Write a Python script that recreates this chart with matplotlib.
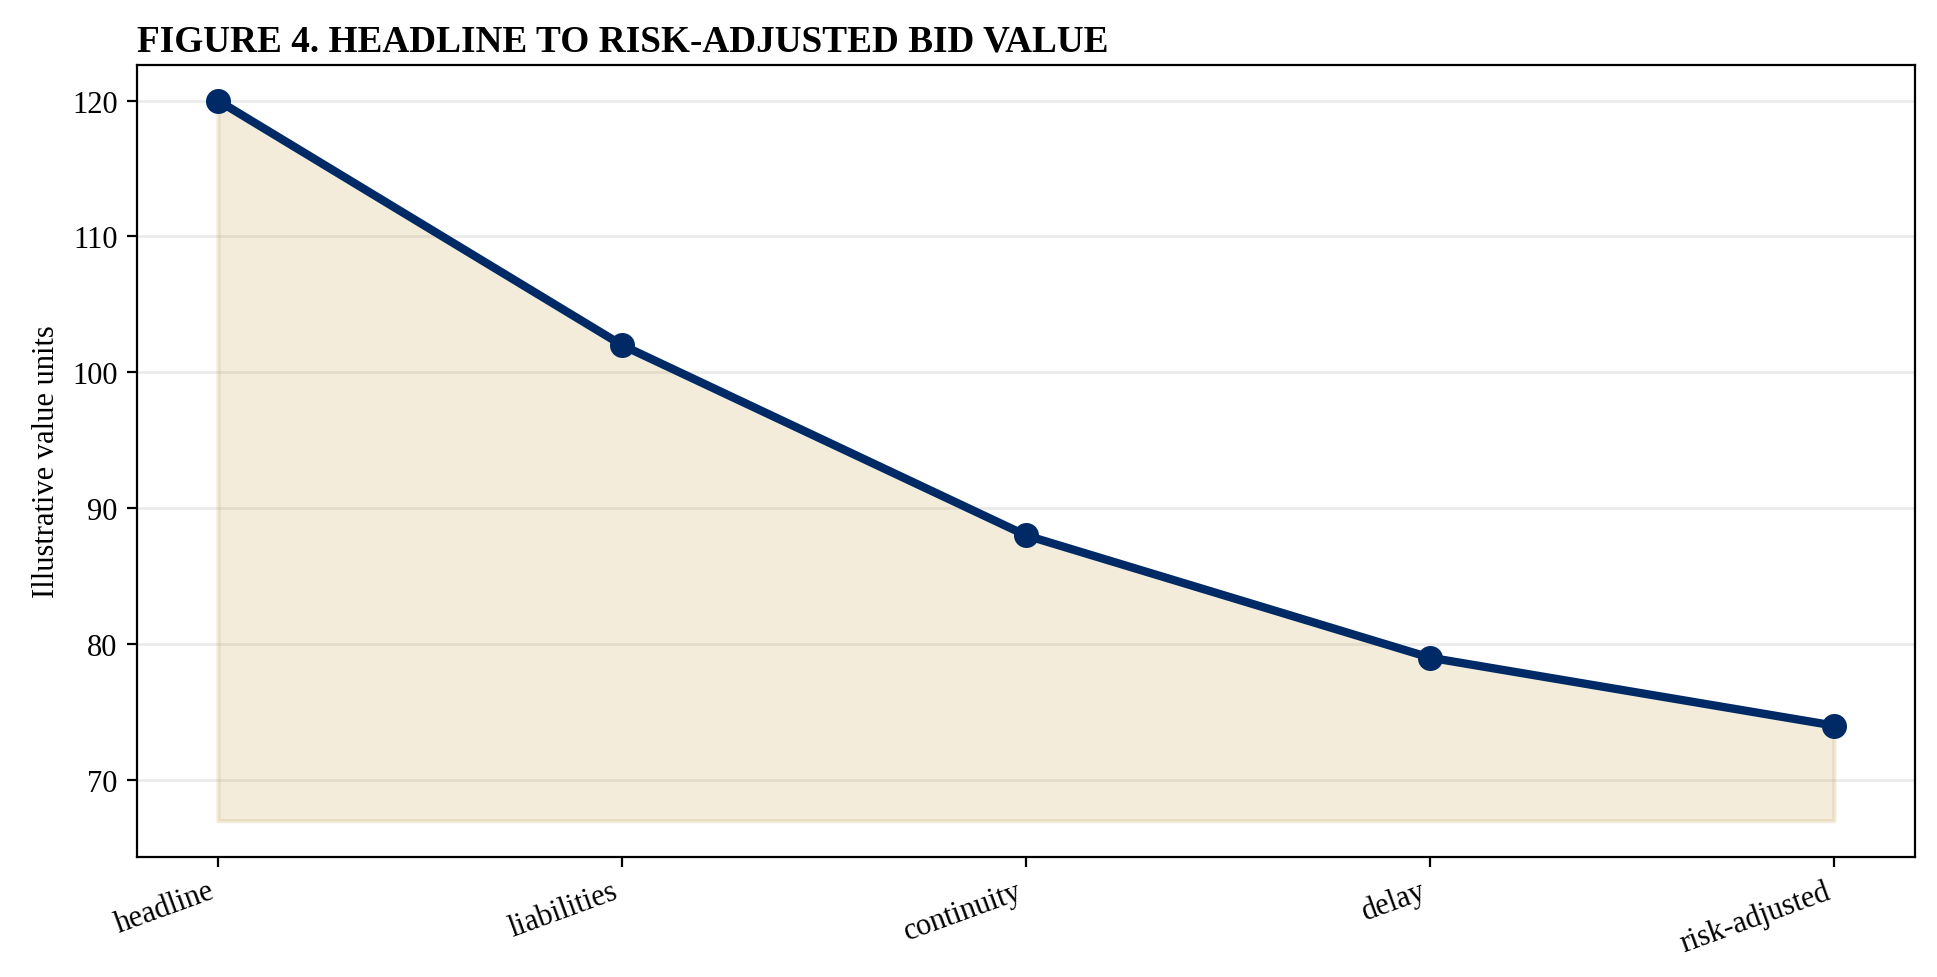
import matplotlib
matplotlib.use("Agg")
import matplotlib.pyplot as plt

stages = ["headline", "liabilities", "continuity", "delay", "risk-adjusted"]
values = [120, 102, 88, 79, 74]
floor = 67

plt.rcParams["font.family"] = ["Liberation Serif", "DejaVu Serif"]

fig, ax = plt.subplots(figsize=(9.685, 4.89), dpi=200)
fig.subplots_adjust(left=0.0708, right=0.9885, top=0.933, bottom=0.123)

x = list(range(len(stages)))
ax.fill_between(x, floor, values, color="#c3a04b", alpha=0.2, linewidth=1.5)
ax.plot(x, values, color="#002a66", linewidth=3, marker="o", markersize=8)

ax.set_xticks(x)
ax.set_xticklabels(stages, rotation=20, ha="right", fontsize=11)
ax.tick_params(axis="y", labelsize=11)
ax.set_ylabel("Illustrative value units", fontsize=11)
ax.yaxis.grid(True, color="#ebebeb", linewidth=1)
ax.set_axisbelow(True)
ax.set_title("FIGURE 4. HEADLINE TO RISK-ADJUSTED BID VALUE", loc="left",
             fontsize=13.4, fontweight="bold", pad=5)

fig.savefig("out.png")
